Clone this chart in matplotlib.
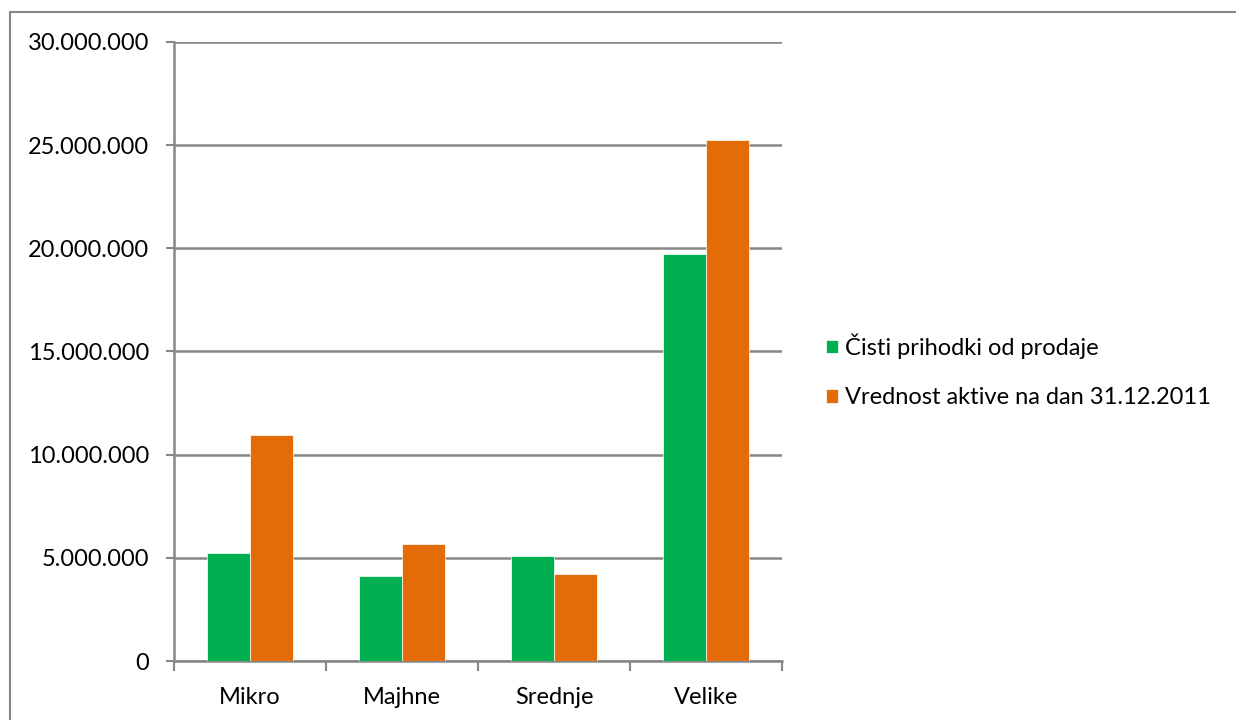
import matplotlib.pyplot as plt
import numpy as np
from matplotlib.patches import Rectangle
from matplotlib.ticker import FuncFormatter

# data
categories = ['Mikro', 'Majhne', 'Srednje', 'Velike']
prihodki = [5240000, 4110000, 5100000, 19730000]
aktiva = [10930000, 5680000, 4220000, 25240000]
series_names = ['Čisti prihodki od prodaje', 'Vrednost aktive na dan 31.12.2011']
colors = ['#00B050', '#E36C09']
yticks = [0, 5000000, 10000000, 15000000, 20000000, 25000000, 30000000]

plt.rcParams['font.family'] = ['Lato', 'DejaVu Sans']
grey = '#878787'
fs = 17

fig = plt.figure(figsize=(12.36, 7.2), dpi=100)
ax = fig.add_axes([174 / 1236, 1 - 661 / 720, 608 / 1236, 619 / 720])

# outer chart border
fig.patches.append(Rectangle((10 / 1236, -0.01), 1.0, 1 - 12 / 720 + 0.01,
                             transform=fig.transFigure, fill=False,
                             edgecolor=grey, linewidth=1.5))

x = np.arange(len(categories))
w = 1 / 3.5
ax.bar(x - w / 2, prihodki, w, color=colors[0], edgecolor='white', linewidth=0.5, label=series_names[0], zorder=3)
ax.bar(x + w / 2, aktiva, w, color=colors[1], edgecolor='white', linewidth=0.5, label=series_names[1], zorder=3)

ax.set_xlim(-0.5, len(categories) - 0.5)
ax.set_ylim(0, 30000000)
ax.set_yticks(yticks)
ax.yaxis.set_major_formatter(FuncFormatter(lambda v, p: f'{int(v):,}'.replace(',', '.')))
ax.grid(axis='y', color=grey, linewidth=1.8, zorder=0)

ax.set_xticks(x)
ax.set_xticklabels(categories)
ax.set_xticks(np.arange(-0.5, len(categories)), minor=True)
ax.tick_params(axis='x', which='major', length=0, pad=19, labelsize=fs)
ax.tick_params(axis='x', which='minor', length=7, width=1.5, color=grey)
ax.tick_params(axis='y', length=6, width=1.5, color=grey, pad=12, labelsize=fs)

for s in ['top', 'right']:
    ax.spines[s].set_visible(False)
for s in ['left', 'bottom']:
    ax.spines[s].set_color(grey)
    ax.spines[s].set_linewidth(1.8)

fig.legend(loc='center left', bbox_to_anchor=(826 / 1236, 1 - 371 / 720),
           frameon=False, fontsize=fs, handlelength=0.5, handleheight=0.5,
           handletextpad=0.3, labelspacing=1.2, borderpad=0, borderaxespad=0)

fig.savefig('out.png', dpi=100)
